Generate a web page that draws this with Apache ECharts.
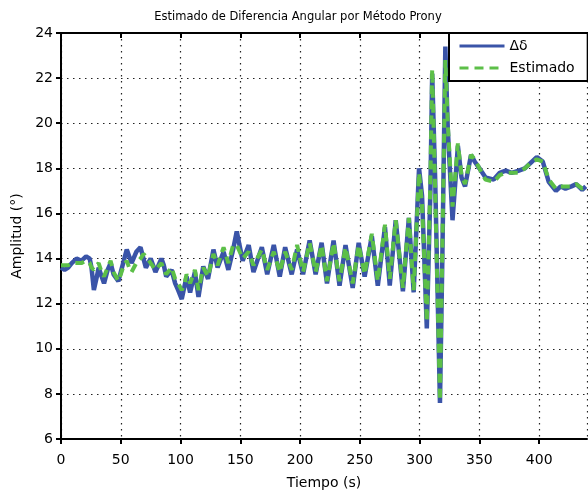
<!DOCTYPE html>
<html>
<head>
<meta charset="utf-8">
<script src="https://cdn.jsdelivr.net/npm/echarts@6/dist/echarts.min.js"></script>
<style>
html,body{margin:0;padding:0;background:#fff;}
#chart{width:588px;height:495px;}
</style>
</head>
<body>
<div id="chart"></div>
<script>
// Time samples (s)
const tiempo = [0,3,6,9,13,17,21,24,25.5,27.5,30,31.5,34,36,39,41.5,44,48,50,52.5,55,57,59,63,66.5,69,71,75,79,84,86,88,92.5,95.5,98,101,103,105,108,112,115,119,123,127.5,131,136,140,144,147,152,157,161,168,172.5,178,183,187.5,193,197.5,202.5,208,213,218,222.5,228,233,238,244,249,254,260,265,271,275,280,286,291,295,299.5,302,306,309,310.5,313,317,319,321.5,323.5,327.5,330,332,335,338,343,346,350,355,362,367,372,377,383,388,392,398,403,408,414,418,422,427,431,436,439];
// Δδ (deg)
const deltaDelta = [13.6,13.5,13.6,13.8,14.0,13.9,14.1,14.0,13.6,12.6,13.2,13.6,13.2,12.9,13.5,13.8,13.3,13.0,13.4,13.9,14.4,14.1,13.8,14.3,14.5,14.0,13.6,14.0,13.4,14.0,13.7,13.2,13.5,12.9,12.6,12.2,12.7,13.2,12.5,13.4,12.3,13.65,13.1,14.4,13.6,14.3,13.5,14.4,15.2,13.9,14.6,13.4,14.5,13.3,14.6,13.2,14.5,13.3,14.4,13.3,14.8,13.3,14.7,12.9,14.8,12.8,14.6,12.7,14.7,13.2,15.0,12.8,15.4,12.8,15.7,12.55,15.8,12.5,18.0,16.8,10.9,17.0,22.2,17.5,7.6,14.0,23.4,19.8,15.7,17.5,19.0,17.6,17.2,18.6,18.3,18.0,17.6,17.5,17.8,17.9,17.8,17.9,18.0,18.2,18.5,18.3,17.4,17.0,17.2,17.1,17.2,17.3,17.05,17.2];
// Estimado (deg)
const estimado = [13.7,13.7,13.7,13.8,13.8,13.8,13.9,13.8,13.6,13.5,13.7,13.8,13.4,13.2,13.6,13.9,13.4,13.0,13.3,13.7,13.9,13.6,13.4,13.8,14.0,14.2,14.1,13.8,13.5,13.8,13.5,13.3,13.6,13.1,12.9,12.6,12.8,13.3,12.9,13.5,12.6,13.6,13.2,14.2,13.7,14.5,13.8,14.6,14.6,14.0,14.3,13.7,14.4,13.5,14.3,13.4,14.3,13.5,14.6,13.4,14.7,13.4,14.6,13.0,14.7,13.0,14.5,12.9,14.6,13.3,15.1,13.0,15.5,13.1,15.7,12.7,15.8,12.6,17.8,16.4,11.2,17.5,22.4,17.0,7.7,14.5,22.8,20.0,16.3,17.8,19.1,17.7,17.3,18.6,18.4,18.0,17.5,17.4,17.7,17.8,17.8,17.8,18.0,18.2,18.4,18.3,17.5,17.1,17.2,17.2,17.2,17.3,17.1,17.2];

const seriesNames = ['\u0394\u03b4', 'Estimado'];
const xMin = 0, xMax = 440, xStep = 50;
const yMin = 6, yMax = 24, yStep = 2;

const toPairs = (ys) => tiempo.map((t, i) => [t, ys[i]]);

const FONT = 'DejaVu Sans';
const chart = echarts.init(document.getElementById('chart'), null, {renderer: 'canvas'});
const dotted = {color: '#222', width: 1.2, type: [1.5, 4.5]};
const axisLine = {show: true, lineStyle: {color: '#000', width: 2}};

chart.setOption({
  animation: false,
  backgroundColor: '#fff',
  title: {
    text: 'Estimado de Diferencia Angular por Método Prony',
    left: 293, top: 6, textAlign: 'center',
    textStyle: {fontFamily: FONT, fontSize: 11.5, fontWeight: 'normal', color: '#000'}
  },
  grid: {left: 61, right: 1, top: 33, bottom: 50, containLabel: false},
  legend: {
    data: seriesNames,
    orient: 'vertical',
    left: 449, top: 33,
    padding: [6, 13, 6, 9],
    itemGap: 8, itemWidth: 45, itemHeight: 14,
    itemStyle: {opacity: 0},
    lineStyle: {width: 3},
    backgroundColor: '#fff', borderColor: '#000', borderWidth: 2, borderRadius: 0,
    textStyle: {fontFamily: FONT, fontSize: 14, color: '#000'}
  },
  xAxis: [{
    type: 'value', min: xMin, max: xMax, interval: xStep,
    name: 'Tiempo (s)', nameLocation: 'middle', nameGap: 37,
    nameTextStyle: {fontFamily: FONT, fontSize: 14, color: '#000'},
    axisLine: axisLine,
    axisTick: {show: true, inside: false, length: 5, lineStyle: {color: '#000', width: 2}},
    axisLabel: {fontFamily: FONT, fontSize: 14, color: '#000', margin: 14, showMaxLabel: false},
    splitLine: {show: true, lineStyle: dotted}
  }, {
    type: 'value', min: xMin, max: xMax, interval: xStep, position: 'top',
    axisLine: axisLine,
    axisTick: {show: true, inside: true, length: 5, lineStyle: {color: '#000', width: 2}},
    axisLabel: {show: false}, splitLine: {show: false}
  }],
  yAxis: [{
    type: 'value', min: yMin, max: yMax, interval: yStep,
    name: 'Amplitud (°)', nameLocation: 'middle', nameGap: 36,
    nameTextStyle: {fontFamily: FONT, fontSize: 14, color: '#000'},
    axisLine: axisLine,
    axisTick: {show: true, inside: false, length: 5, lineStyle: {color: '#000', width: 2}},
    axisLabel: {fontFamily: FONT, fontSize: 14, color: '#000', margin: 8},
    splitLine: {show: true, lineStyle: dotted}
  }, {
    type: 'value', min: yMin, max: yMax, interval: yStep, position: 'right',
    axisLine: axisLine,
    axisTick: {show: true, inside: true, length: 5, lineStyle: {color: '#000', width: 2}},
    axisLabel: {show: false}, splitLine: {show: false}
  }],
  series: [{
    name: seriesNames[0], type: 'line', data: toPairs(deltaDelta),
    showSymbol: false, symbol: 'none',
    lineStyle: {color: '#3a54a8', width: 4.5},
    itemStyle: {color: '#3a54a8'}
  }, {
    name: seriesNames[1], type: 'line', data: toPairs(estimado),
    showSymbol: false, symbol: 'none',
    lineStyle: {color: '#5cbf48', width: 4, type: [9, 6]},
    itemStyle: {color: '#5cbf48'}
  }]
});
</script>
</body>
</html>
